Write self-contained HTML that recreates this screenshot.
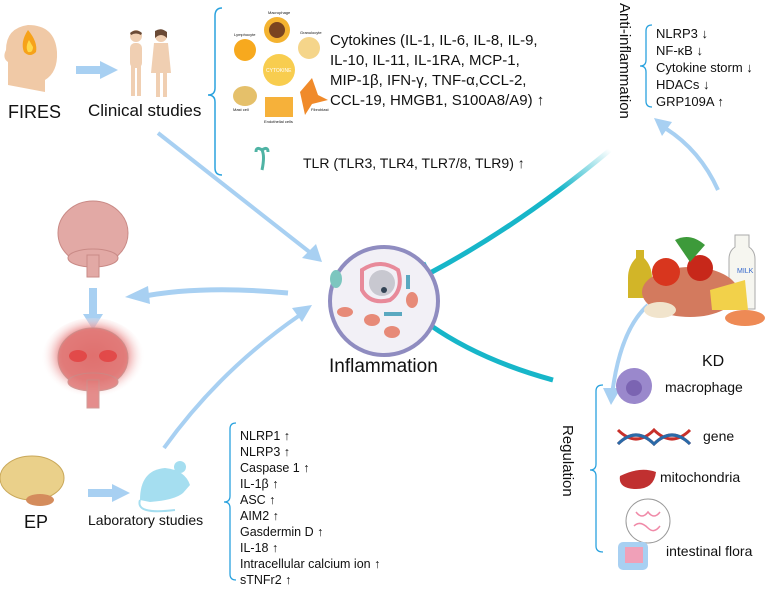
<!DOCTYPE html>
<html><head><meta charset="utf-8"><style>
body{margin:0;background:#fff}
svg{display:block}
text{font-family:"Liberation Sans","DejaVu Sans",sans-serif;fill:#111}
</style></head><body>
<svg width="777" height="593" viewBox="0 0 777 593" xmlns="http://www.w3.org/2000/svg">
<defs>
<radialGradient id="red" cx="0.5" cy="0.45" r="0.5"><stop offset="0" stop-color="#e53b3b"/><stop offset="0.6" stop-color="#e88080"/><stop offset="1" stop-color="#fff" stop-opacity="0"/></radialGradient>
<linearGradient id="tealfade" x1="1" y1="0" x2="0" y2="1"><stop offset="0" stop-color="#17b6c9" stop-opacity="0"/><stop offset="0.3" stop-color="#17b6c9"/><stop offset="1" stop-color="#17b6c9"/></linearGradient>
</defs>
<!-- FIRES head -->
<path d="M8,85 L8,62 Q2,58 6,50 Q6,28 28,25 Q55,25 57,52 Q58,72 45,80 L45,92 Z" fill="#f0c9a6"/>
<path d="M28,30 Q20,42 24,52 Q30,58 36,52 Q38,42 28,30Z" fill="#f6a21a"/>
<path d="M29,40 Q25,47 28,52 Q33,53 33,47Z" fill="#ffd84a"/>
<text x="8" y="118" font-size="18">FIRES</text>
<polygon points="76,66 100,66 100,61 118,70 100,79 100,74 76,74" fill="#a8d0f2"/>
<!-- clinical figures -->
<g fill="#f0cfb2">
<circle cx="136" cy="36" r="6"/><rect x="130" y="43" width="12" height="25" rx="5"/><rect x="131" y="66" width="4" height="30"/><rect x="137" y="66" width="4" height="30"/>
<circle cx="161" cy="36" r="6"/><path d="M154,43 h14 l3,30 h-20 z"/><rect x="156" y="70" width="4" height="27"/><rect x="163" y="70" width="4" height="27"/>
</g>
<path d="M155,31 Q161,27 167,32 L167,38 Q161,32 155,38Z" fill="#6a4a35"/>
<path d="M130,33 Q136,28 142,33 L141,35 Q136,32 131,35Z" fill="#6a4a35"/>
<text x="88" y="116" font-size="17">Clinical studies</text>
<!-- top brace -->
<path d="M222,8 Q215,8 215,16 L215,88 Q215,95 208,95 Q215,95 215,102 L215,168 Q215,175 222,175" fill="none" stroke="#2aa2de" stroke-width="1.5"/>
<!-- cytokine image -->
<g>
<circle cx="277" cy="30" r="13" fill="#f4b330"/><circle cx="277" cy="30" r="8" fill="#7a4420"/>
<circle cx="245" cy="50" r="11" fill="#f7a91e"/>
<circle cx="309" cy="48" r="11" fill="#f5d58a"/>
<ellipse cx="245" cy="96" rx="12" ry="10" fill="#e5c06a"/>
<path d="M300,92 L312,78 L318,95 L328,100 L312,104 L305,115Z" fill="#f08a2a"/>
<rect x="265" y="97" width="28" height="20" fill="#f6b13a"/>
<circle cx="279" cy="70" r="16" fill="#f7c430" opacity="0.85"/>
<text x="266" y="72" font-size="5" style="fill:#fff">CYTOKINE</text>
<text x="268" y="14" font-size="4">Macrophage</text>
<text x="234" y="36" font-size="4">Lymphocyte</text>
<text x="300" y="34" font-size="4">Granulocyte</text>
<text x="233" y="111" font-size="4">Mast cell</text>
<text x="311" y="111" font-size="4">Fibroblast</text>
<text x="264" y="123" font-size="4">Endothelial cells</text>
</g>
<g font-size="15">
<text x="330" y="45">Cytokines (IL-1, IL-6, IL-8,  IL-9,</text>
<text x="330" y="65">IL-10, IL-11, IL-1RA, MCP-1,</text>
<text x="330" y="85">MIP-1β, IFN-γ, TNF-α,CCL-2,</text>
<text x="330" y="105">CCL-19,  HMGB1, S100A8/A9) ↑</text>
</g>
<path d="M256,152 Q256,146 262,150 Q265,156 262,170 M268,152 Q268,146 262,150" fill="none" stroke="#4fb3a4" stroke-width="3"/>
<text x="303" y="168" font-size="14">TLR (TLR3, TLR4, TLR7/8, TLR9) ↑</text>
<!-- anti-inflammation -->
<text transform="translate(620,3) rotate(90)" font-size="15">Anti-inflammation</text>
<path d="M652,25 Q646,25 646,31 L646,60 Q646,66 640,66 Q646,66 646,72 L646,101 Q646,107 652,107" fill="none" stroke="#2aa2de" stroke-width="1.3"/>
<g font-size="13">
<text x="656" y="38">NLRP3 ↓</text>
<text x="656" y="55">NF-κB ↓</text>
<text x="656" y="72">Cytokine storm ↓</text>
<text x="656" y="89">HDACs ↓</text>
<text x="656" y="106">GRP109A ↑</text>
</g>
<!-- blue arrows -->
<path d="M158,133 L312,254" stroke="#a8d0f2" stroke-width="4"/>
<polygon points="302,258 322,262 316,244" fill="#a8d0f2"/>
<path d="M164,448 Q220,370 300,315" fill="none" stroke="#a8d0f2" stroke-width="4"/>
<polygon points="292,308 312,305 302,322" fill="#a8d0f2"/>
<path d="M288,293 Q200,285 140,297" fill="none" stroke="#a8d0f2" stroke-width="5"/>
<polygon points="148,286 125,297 150,304" fill="#a8d0f2"/>
<rect x="89" y="288" width="8" height="28" fill="#a8d0f2"/><polygon points="83,314 103,314 93,330" fill="#a8d0f2"/>
<path d="M718,190 Q700,150 665,128" fill="none" stroke="#a8d0f2" stroke-width="4"/>
<polygon points="654,118 672,122 662,136" fill="#a8d0f2"/>
<path d="M648,305 Q620,330 612,395" fill="none" stroke="#a8d0f2" stroke-width="4"/>
<polygon points="603,388 621,388 611,405" fill="#a8d0f2"/>
<!-- teal inhibition -->
<path d="M610,150 Q520,225 430,273" fill="none" stroke="url(#tealfade)" stroke-width="5"/>
<line x1="423" y1="263" x2="434" y2="283" stroke="#17b6c9" stroke-width="5"/>
<path d="M553,380 Q480,360 430,325" fill="none" stroke="#17b6c9" stroke-width="5"/>
<line x1="421" y1="332" x2="433" y2="314" stroke="#17b6c9" stroke-width="5"/>
<!-- cell -->
<circle cx="384" cy="301" r="54" fill="#f2f0f6" stroke="#8f8cc0" stroke-width="4"/>
<circle cx="382" cy="283" r="13" fill="#c8c8d0"/><circle cx="384" cy="290" r="3" fill="#345"/>
<path d="M362,270 Q380,258 398,270 Q404,290 390,300 Q370,305 362,290Z" fill="none" stroke="#e88a9a" stroke-width="4"/>
<ellipse cx="336" cy="279" rx="6" ry="9" fill="#7cc6bf"/>
<ellipse cx="345" cy="312" rx="8" ry="5" fill="#e78a78"/><ellipse cx="372" cy="320" rx="8" ry="6" fill="#e78a78"/><ellipse cx="392" cy="332" rx="8" ry="6" fill="#e78a78"/><ellipse cx="412" cy="300" rx="6" ry="8" fill="#e78a78"/>
<rect x="384" y="312" width="18" height="4" fill="#5aa8c0"/><rect x="406" y="275" width="4" height="14" fill="#5aa8c0"/>
<text x="329" y="372" font-size="19">Inflammation</text>
<!-- brains -->
<g fill="#e2a9a5" stroke="#c98a86" stroke-width="1">
<ellipse cx="93" cy="233" rx="35" ry="32"/><ellipse cx="93" cy="258" rx="25" ry="9"/><rect x="87" y="255" width="12" height="22"/>
</g>
<ellipse cx="93" cy="360" rx="52" ry="42" fill="url(#red)"/>
<g fill="#e07a78" stroke="#c98a86" stroke-width="1" opacity="0.85">
<ellipse cx="93" cy="358" rx="35" ry="30"/><ellipse cx="93" cy="382" rx="25" ry="9"/><rect x="87" y="380" width="12" height="28"/>
</g>
<ellipse cx="78" cy="356" rx="9" ry="6" fill="#e23838" opacity="0.7"/><ellipse cx="108" cy="356" rx="9" ry="6" fill="#e23838" opacity="0.7"/>
<!-- EP -->
<ellipse cx="32" cy="478" rx="32" ry="22" fill="#ead08a" stroke="#c9a85a"/>
<ellipse cx="40" cy="500" rx="14" ry="6" fill="#d48c5c"/>
<text x="24" y="528" font-size="18">EP</text>
<polygon points="88,489 112,489 112,484 130,493 112,502 112,497 88,497" fill="#a8d0f2"/>
<path d="M140,500 Q140,470 165,468 Q185,470 190,485 L183,493 Q175,500 150,502Z" fill="#a5def0"/>
<circle cx="180" cy="467" r="6" fill="#a5def0"/>
<path d="M140,500 Q135,515 175,510" fill="none" stroke="#a5def0" stroke-width="2"/>
<text x="88" y="525" font-size="14">Laboratory studies</text>
<!-- lab brace -->
<path d="M236,423 Q230,423 230,429 L230,496 Q230,502 224,502 Q230,502 230,508 L230,574 Q230,580 236,580" fill="none" stroke="#2aa2de" stroke-width="1.3"/>
<g font-size="12.5">
<text x="240" y="440">NLRP1 ↑</text>
<text x="240" y="456">NLRP3 ↑</text>
<text x="240" y="472">Caspase 1 ↑</text>
<text x="240" y="488">IL-1β ↑</text>
<text x="240" y="504">ASC ↑</text>
<text x="240" y="520">AIM2 ↑</text>
<text x="240" y="536">Gasdermin D ↑</text>
<text x="240" y="552">IL-18 ↑</text>
<text x="240" y="568">Intracellular calcium ion ↑</text>
<text x="240" y="584">sTNFr2 ↑</text>
</g>
<!-- KD food -->
<g>
<path d="M636,250 h8 v8 q8,8 8,20 v20 h-24 v-20 q0,-12 8,-20z" fill="#d2b528"/>
<path d="M735,235 h14 v12 q6,4 6,12 v50 h-26 v-50 q0,-8 6,-12z" fill="#f6f6f0" stroke="#aaa"/>
<text x="737" y="273" font-size="7" style="fill:#36c">MILK</text>
<ellipse cx="690" cy="292" rx="48" ry="25" fill="#d37a5e"/>
<circle cx="666" cy="272" r="14" fill="#d8361e"/><circle cx="700" cy="268" r="13" fill="#c7281a"/>
<path d="M675,240 Q690,232 705,245 L690,262Z" fill="#3d9a3a"/>
<path d="M710,290 L745,280 L748,310 L712,310Z" fill="#f2d14a"/>
<ellipse cx="745" cy="318" rx="20" ry="8" fill="#ee8a55"/>
<ellipse cx="660" cy="310" rx="16" ry="8" fill="#f1e4cc"/>
</g>
<text x="702" y="366" font-size="16">KD</text>
<!-- Regulation -->
<text transform="translate(563,425) rotate(90)" font-size="15">Regulation</text>
<path d="M603,385 Q596,385 596,391 L596,464 Q596,470 590,470 Q596,470 596,476 L596,546 Q596,552 603,552" fill="none" stroke="#2aa2de" stroke-width="1.3"/>
<circle cx="634" cy="386" r="18" fill="#9a88cc"/><circle cx="634" cy="388" r="8" fill="#7b64b2"/>
<text x="665" y="392" font-size="14">macrophage</text>
<path d="M618,430 Q636,448 654,430 Q672,448 690,430 M618,444 Q636,426 654,444 Q672,426 690,444" fill="none" stroke="#c8302a" stroke-width="3"/>
<path d="M618,444 Q636,426 654,444 Q672,426 690,444" fill="none" stroke="#2a6aa8" stroke-width="3"/>
<text x="703" y="441" font-size="14">gene</text>
<path d="M620,476 Q640,466 656,472 Q654,490 634,489 Q618,488 620,476Z" fill="#c03030"/>
<text x="660" y="482" font-size="14">mitochondria</text>
<circle cx="648" cy="521" r="22" fill="#fff" stroke="#999"/>
<path d="M636,512 q6,8 12,0 q6,8 12,0 M634,526 q6,-6 14,2 q6,6 12,-2" fill="none" stroke="#f08aa8" stroke-width="1.5"/>
<rect x="618" y="542" width="30" height="28" rx="5" fill="#a8d0f2"/><rect x="625" y="547" width="18" height="16" fill="#f0a0b8"/>
<text x="666" y="556" font-size="14">intestinal flora</text>
</svg>
</body></html>
